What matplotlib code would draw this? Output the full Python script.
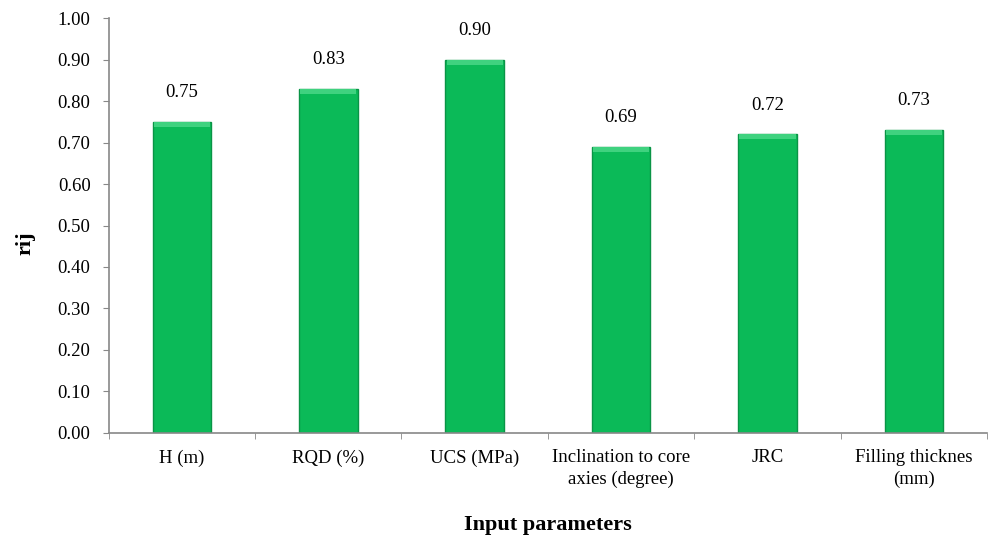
import matplotlib.pyplot as plt
import numpy as np

categories = ['H (m)', 'RQD (%)', 'UCS (MPa)', 'Inclination to core\naxies (degree)',
              'JRC', 'Filling thicknes\n(mm)']
rij = [0.75, 0.83, 0.90, 0.69, 0.72, 0.73]
y_ticks = [0.0, 0.1, 0.2, 0.3, 0.4, 0.5, 0.6, 0.7, 0.8, 0.9, 1.0]

plt.rcParams['font.family'] = ['Liberation Serif', 'DejaVu Serif']

fig = plt.figure(figsize=(9.88, 5.35), dpi=100)
ax = fig.add_axes([0.110, 0.191, 0.889, 0.775])

x = np.arange(len(categories))
w = 0.4
ax.bar(x, rij, width=w, color='#0BBA58', edgecolor='#0A9446', linewidth=1.0, zorder=2)
# light bevel on top of each bar
ax.bar(x, [0.012] * len(rij), bottom=[v - 0.012 for v in rij], width=w * 0.96,
       color='#3FD27F', linewidth=0, zorder=3)

for xi, v in zip(x, rij):
    ax.annotate('{:.2f}'.format(v), (xi, v), xytext=(0, 21), textcoords='offset points',
                ha='center', va='center', fontsize=13.5)

ax.set_xlim(-0.5, len(categories) - 0.5)
ax.set_ylim(0, 1.0)
ax.set_yticks(y_ticks)
ax.set_yticklabels(['{:.2f}'.format(t) for t in y_ticks], fontsize=13.5)

ax.set_xticks(x)
ax.set_xticklabels(categories, fontsize=13.5, linespacing=1.3)
ax.tick_params(axis='x', length=0, pad=12)
ax.set_xticks(np.arange(len(categories) + 1) - 0.5, minor=True)
ax.tick_params(axis='x', which='minor', length=4, color='#888888', direction='out')
ax.tick_params(axis='y', length=4, color='#888888', direction='out', pad=9)

for s in ['top', 'right']:
    ax.spines[s].set_visible(False)
for s in ['left', 'bottom']:
    ax.spines[s].set_color('#888888')
    ax.spines[s].set_linewidth(1.2)

ax.set_ylabel('rij', fontsize=16, fontweight='bold')
ax.yaxis.set_label_coords(-0.083, 0.458)
ax.set_xlabel('Input parameters', fontsize=16, fontweight='bold')
ax.xaxis.set_label_coords(0.5, -0.198)

fig.savefig('out.png', dpi=100)
